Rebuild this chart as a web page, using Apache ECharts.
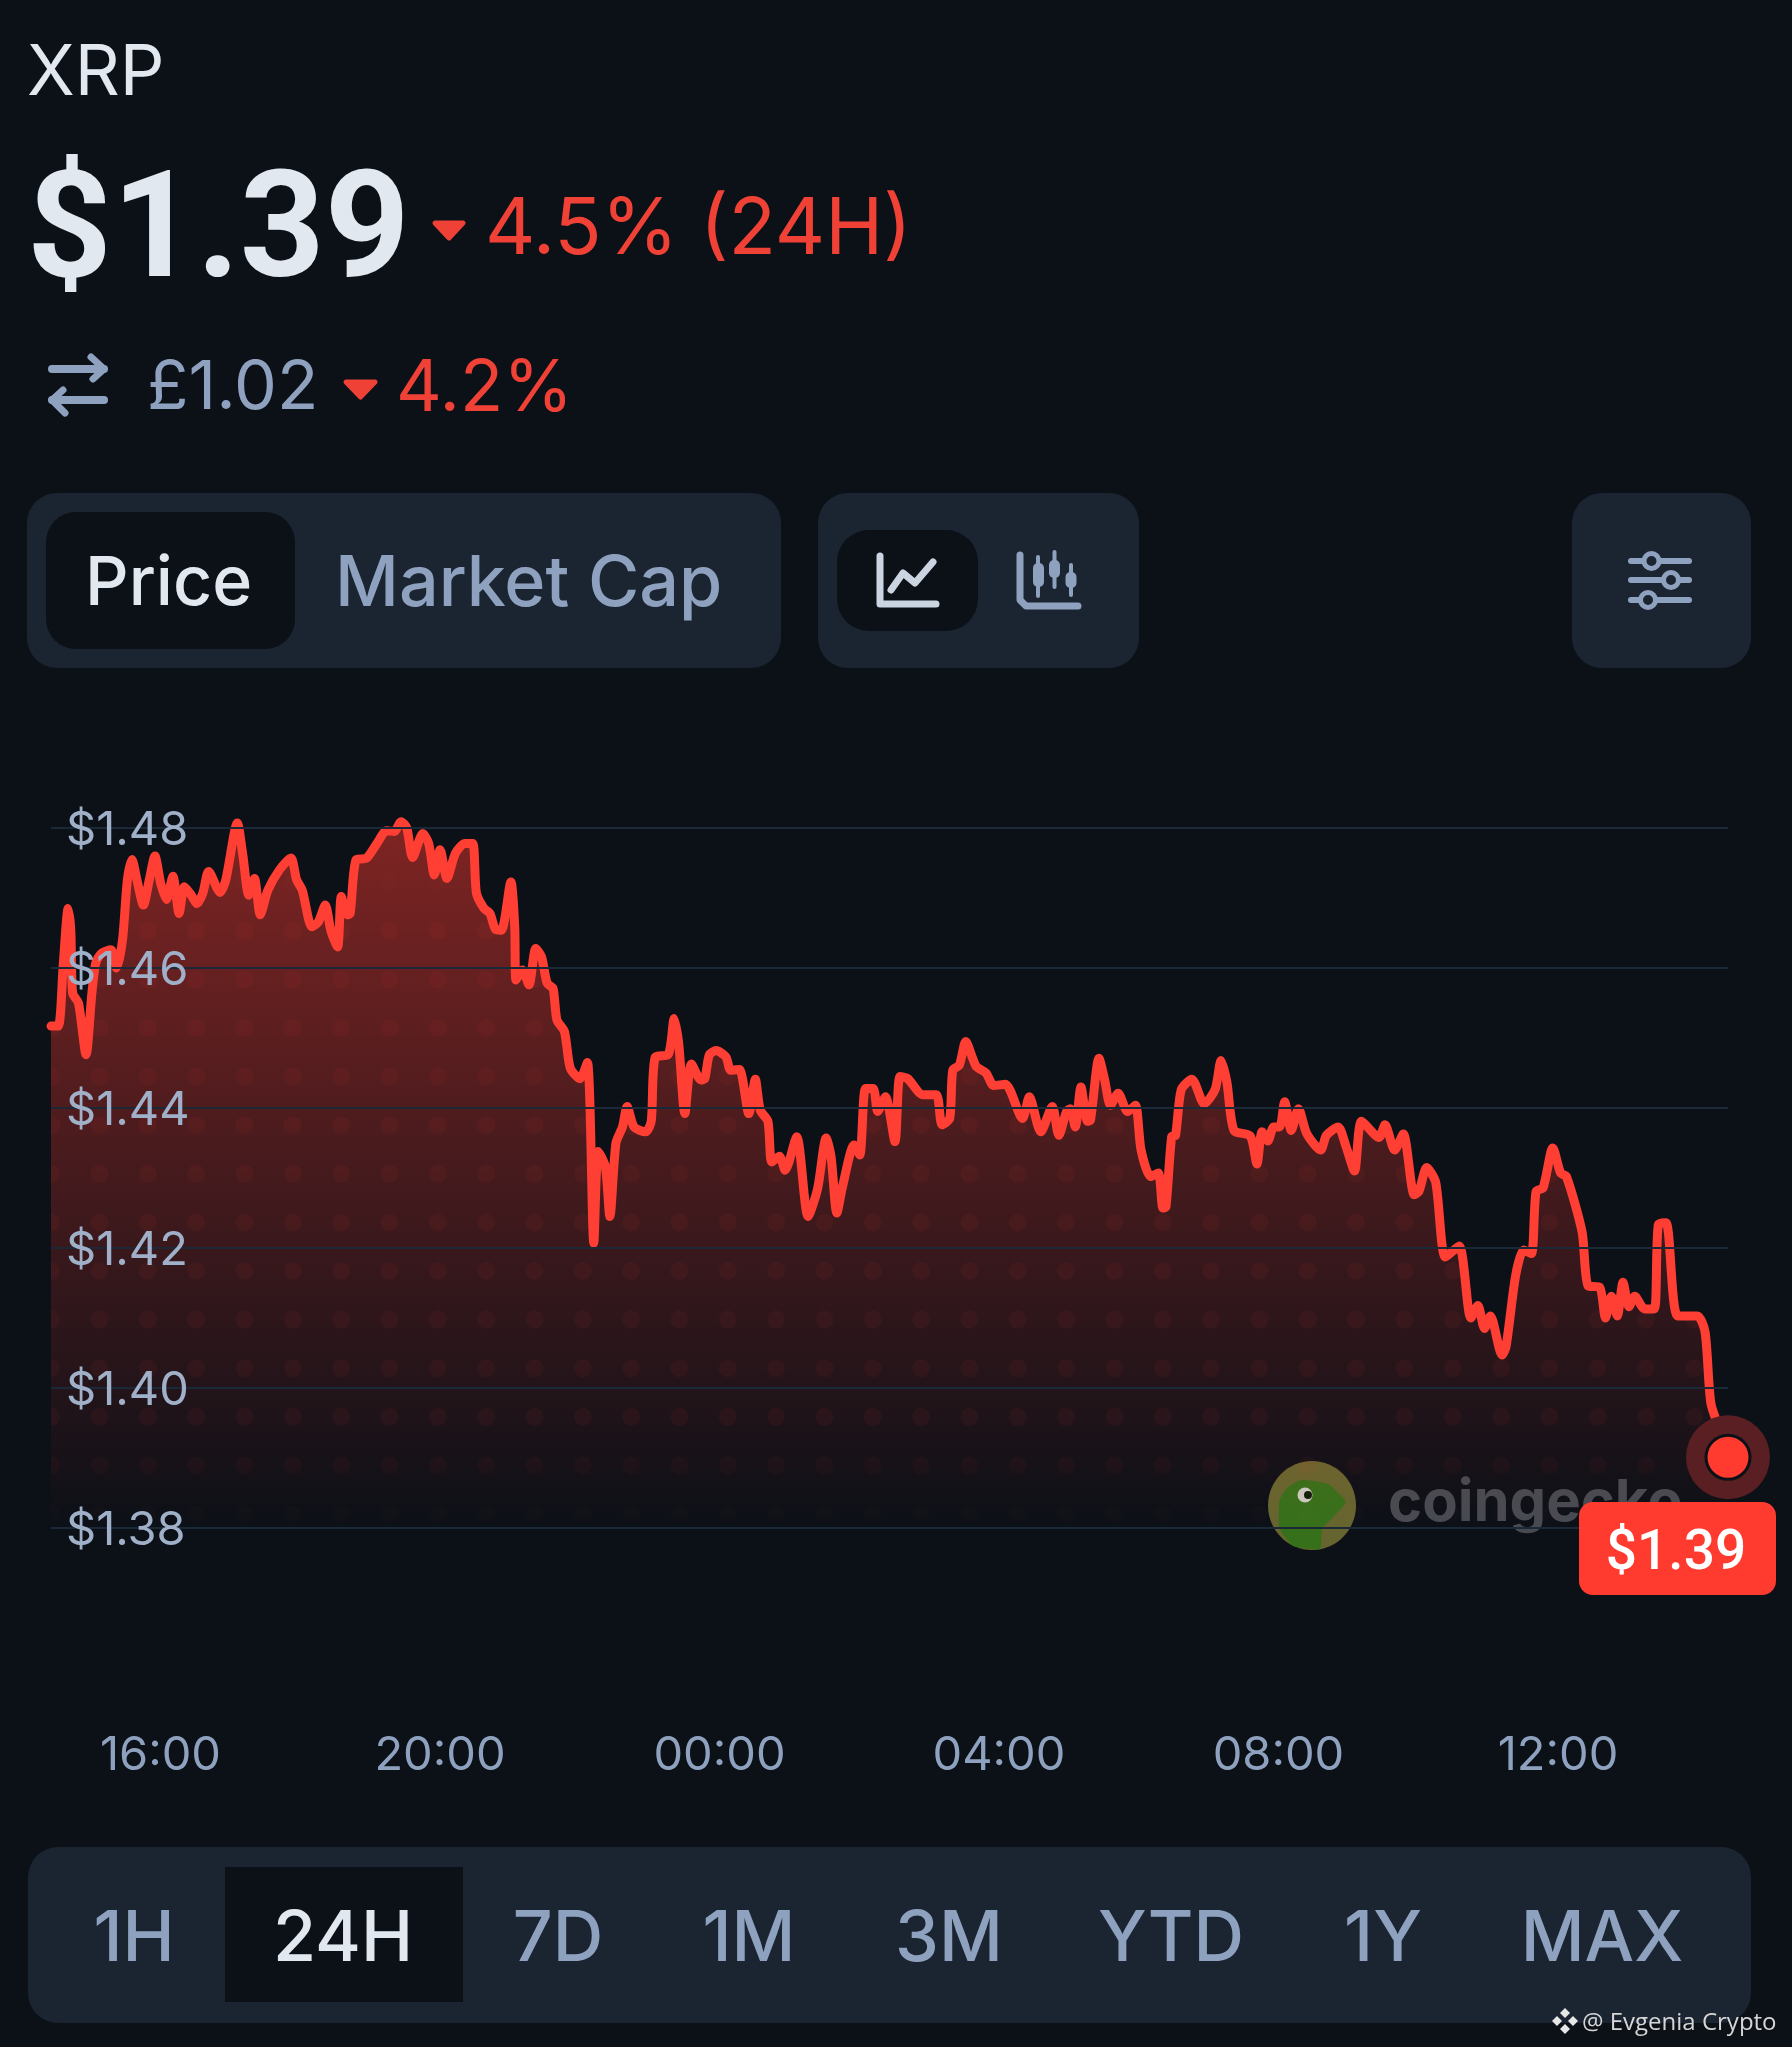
<!DOCTYPE html>
<html>
<head>
<meta charset="utf-8">
<style>html,body{margin:0;padding:0;background:#0c1017}#c{width:1792px;height:2047px}</style>
<script src="https://cdn.jsdelivr.net/npm/echarts@6/dist/echarts.min.js"></script>
</head>
<body>
<div id="c"></div>
<script>
// minutes since the start of the 24H window (14:26)
const minutes = [0,6.2,10.4,14.7,17,18.6,23.6,30.1,35.1,38.4,43.3,51.5,56.4,61.4,65.6,69.6,73.8,79.4,84.4,89.3,94.2,99.2,104.7,110,114.6,120.5,125.4,130.4,135.3,145.2,150.1,160,164.9,169.8,174.7,179.7,186.2,196.1,206,210.9,215.8,224,229.6,235.5,240.5,246.1,249.3,254.3,256.9,261.8,271,279.9,288.1,294.7,300.6,305.5,310.5,319.3,324.3,329.2,334.1,340,347.3,355.5,362.1,365.3,371.9,376.9,381.8,386.7,394.9,398.2,399.2,404.8,410.4,416.3,421.2,426.1,431.1,434.4,440.9,445.9,454.1,460.6,466.1,470,476,479.9,485.1,490.7,494.7,500.6,510.5,515.4,518.7,530.2,535.1,539,544.3,549.9,558.1,561.4,565.3,571.2,579.5,583.7,591,599.2,604.8,609,615.6,618.9,625.5,630.4,640.3,650.1,658.3,665.6,669.8,674.8,679.7,689.6,694.5,699.4,706,709.9,716.5,724.7,729,735.6,748.7,760.2,765.1,771.7,774.3,779.9,785.5,791.4,794.7,802.9,809.5,819.4,834.2,840.1,849.9,859.8,865.4,872,875.2,879.5,884.4,890,892.6,899.9,904.8,909.7,916.3,924.5,931.1,936,944.2,950.8,954.8,957.4,962.3,965.6,970.5,979.6,990.3,999.7,1004.7,1009.7,1015.8,1029.8,1035.5,1039.9,1044.9,1049.9,1055,1059.3,1065,1071.1,1078.4,1090.2,1095.2,1105.2,1112,1119.3,1125.4,1140.4,1145.5,1153.8,1161.2,1170.6,1174.6,1181.3,1189,1197.4,1209.1,1219.2,1225.2,1230.9,1236,1246,1249.4,1257.7,1264.5,1271.2,1275.2,1281.2,1289.6,1296.3,1301.3,1314.7,1319.8,1329.8,1334.8,1339.9,1344.9,1349.9,1354.9,1360,1368.4,1376.7,1380.1,1386.8,1396.8,1413.6,1420.3,1425.3,1433.7,1440];
const prices = [1.4517,1.4517,1.4602,1.4685,1.4654,1.4564,1.455,1.4476,1.4564,1.4607,1.4621,1.4626,1.46,1.464,1.4726,1.4755,1.4726,1.469,1.4726,1.476,1.4721,1.4698,1.4731,1.4678,1.4716,1.4704,1.4692,1.4707,1.4738,1.4708,1.4726,1.4807,1.4759,1.4704,1.4728,1.4676,1.4711,1.474,1.4757,1.4726,1.4711,1.4659,1.4666,1.469,1.4652,1.463,1.4702,1.4676,1.4678,1.4754,1.4757,1.4778,1.4796,1.4795,1.4809,1.48,1.4758,1.4792,1.4778,1.4733,1.4769,1.4728,1.4764,1.4778,1.4778,1.4707,1.4685,1.4678,1.4655,1.4654,1.4723,1.4659,1.4583,1.4597,1.4576,1.4628,1.4616,1.4578,1.4571,1.4526,1.4509,1.4457,1.4442,1.4465,1.4207,1.4338,1.4316,1.4245,1.435,1.4373,1.4402,1.4373,1.4366,1.4381,1.4472,1.4477,1.4528,1.4492,1.4392,1.4463,1.444,1.4442,1.4476,1.4482,1.4473,1.4454,1.4455,1.4392,1.4441,1.4397,1.4381,1.4323,1.4331,1.4311,1.4359,1.4245,1.4285,1.4357,1.4331,1.425,1.4288,1.4347,1.4333,1.4428,1.4428,1.4395,1.4416,1.4352,1.4445,1.4442,1.4419,1.4419,1.4376,1.4385,1.4454,1.4461,1.4495,1.4471,1.4459,1.445,1.4432,1.4434,1.4385,1.4416,1.4366,1.4402,1.4361,1.4395,1.4399,1.4373,1.443,1.4381,1.4383,1.4471,1.444,1.4404,1.4421,1.4395,1.4404,1.434,1.4302,1.4307,1.4257,1.4259,1.4359,1.4361,1.4426,1.4441,1.4406,1.4427,1.4468,1.4437,1.4368,1.436,1.432,1.4366,1.4353,1.4373,1.4373,1.4409,1.4368,1.4399,1.4363,1.434,1.4361,1.4373,1.4345,1.431,1.4381,1.4358,1.4376,1.434,1.4363,1.4276,1.4281,1.4315,1.4294,1.4187,1.4203,1.41,1.4118,1.4085,1.4103,1.4047,1.4059,1.4161,1.4197,1.4192,1.4281,1.4286,1.4343,1.4307,1.4302,1.4223,1.4146,1.4144,1.41,1.4131,1.4103,1.4151,1.4116,1.4131,1.4113,1.4113,1.4233,1.4236,1.4103,1.4103,1.408,1.3978,1.3937,1.3901];
const timeTickMinutes = [94,334,574,814,1054,1294];
const timeTickLabels = ['16:00','20:00','00:00','04:00','08:00','12:00'];
const rangeLabels = ['1H','24H','7D','1M','3M','YTD','1Y','MAX'];

const FONT = 'Inter, Roboto, sans-serif';
const ROBOTO = 'Roboto, sans-serif';
const BG = '#0c1017', PANEL = '#1b2431', MUTED = '#8ea2bf', LIGHT = '#e2e8f0', RED = '#ef4136', LINE = '#ff3f33';

const pts = minutes.map((m, i) => [m, prices[i]]);

// dotted texture that sits inside the filled area
const tile = document.createElement('canvas');
tile.width = 1792; tile.height = 2047;
const tc = tile.getContext('2d');
for (let j = 0; j < 15; j++) {
  const y = 833.6 + 48.6 * j;
  const a = y < 920 ? 0.012 : y > 1500 ? 0.012 : y > 1440 ? 0.04 : 0.055;
  tc.fillStyle = 'rgba(255,59,48,' + a + ')';
  for (let k = -1; k < 36; k++) {
    const x = 99.5 + 48.33 * k;
    if (x < 51 || x > 1728) continue;
    tc.beginPath(); tc.arc(x, y, 9, 0, Math.PI * 2); tc.fill();
  }
}

function txt(text, x, y, size, weight, fill, align, z, family) {
  return { type: 'text', z: z || 20, style: { text, x, y, font: weight + ' ' + size + 'px ' + (family || FONT), fill, align: align || 'left', verticalAlign: 'middle' } };
}
function rect(x, y, w, h, r, fill, z) {
  return { type: 'rect', z: z || 10, shape: { x, y, width: w, height: h, r }, style: { fill } };
}
function poly(points, stroke, width, z) {
  return { type: 'polyline', z: z || 20, shape: { points }, style: { stroke, lineWidth: width, fill: null, lineCap: 'round', lineJoin: 'round' } };
}
function tri(x0, x1, y0, y1, fill) {
  return { type: 'polygon', z: 20, shape: { points: [[x0 + 3, y0 + 3], [x1 - 3, y0 + 3], [(x0 + x1) / 2, y1 - 2]] }, style: { fill, stroke: fill, lineWidth: 5, lineJoin: 'round' } };
}

const elements = [
  txt('XRP', 27, 74, 70, 400, LIGHT),
  txt('$1.39', 27, 239, 148, 700, LIGHT, 'left', 20, ROBOTO),
  tri(432, 466, 220, 240, RED),
  txt('4.5% (24H)', 485, 231, 78, 400, RED),
  poly([[52, 369], [104, 369]], MUTED, 8),
  poly([[91, 357], [104, 369], [93, 379]], MUTED, 7),
  poly([[104, 400], [52, 400]], MUTED, 8),
  poly([[65, 413], [52, 400], [63, 390]], MUTED, 7),
  txt('£1.02', 147, 389, 68, 400, MUTED),
  tri(343, 378, 379, 399, RED),
  txt('4.2%', 396, 390, 71, 400, RED),

  rect(27, 493, 754, 175, 30, PANEL),
  rect(46, 512, 249, 137, 30, BG, 11),
  txt('Price', 85, 585, 68, 500, LIGHT),
  txt('Market Cap', 335, 585, 70, 500, MUTED),

  rect(818, 493, 321, 175, 30, PANEL),
  rect(837, 530, 141, 101, 32, BG, 11),
  poly([[880, 556], [880, 604], [936, 604]], '#cbd5e1', 7),
  poly([[891, 590], [903, 573], [915, 583], [933, 562]], '#cbd5e1', 7),

  poly([[1020, 555], [1020, 600], [1026, 606], [1078, 606]], MUTED, 7),
  poly([[1038, 557], [1038, 596]], MUTED, 4),
  rect(1033, 563, 11, 24, 5, MUTED, 20),
  poly([[1054.5, 552], [1054.5, 587]], MUTED, 4),
  rect(1049, 560, 11, 18, 5, MUTED, 20),
  poly([[1071, 565], [1071, 595]], MUTED, 4),
  rect(1065.5, 572, 11, 16, 5, MUTED, 20),

  rect(1572, 493, 179, 175, 30, PANEL),
  poly([[1631, 561], [1689, 561]], MUTED, 6),
  poly([[1631, 580], [1689, 580]], MUTED, 6),
  poly([[1631, 600], [1689, 600]], MUTED, 6),
  { type: 'circle', z: 21, shape: { cx: 1651.5, cy: 561, r: 7.5 }, style: { fill: PANEL, stroke: MUTED, lineWidth: 5 } },
  { type: 'circle', z: 21, shape: { cx: 1671, cy: 580, r: 7.5 }, style: { fill: PANEL, stroke: MUTED, lineWidth: 5 } },
  { type: 'circle', z: 21, shape: { cx: 1648, cy: 600, r: 7.5 }, style: { fill: PANEL, stroke: MUTED, lineWidth: 5 } },

  // CoinGecko watermark
  { type: 'ellipse', z: 1, shape: { cx: 1312, cy: 1505.5, rx: 44, ry: 44.6 }, style: { fill: '#66652f' } },
  { type: 'polygon', z: 1, shape: { points: [[1279.5, 1500], [1288, 1487], [1301, 1480], [1328, 1484], [1346, 1502], [1336, 1514], [1322.5, 1528.6], [1320, 1549], [1293, 1546], [1279.5, 1528.6]], smooth: 0.15 }, style: { fill: '#37701a' } },
  { type: 'circle', z: 1, shape: { cx: 1305, cy: 1495, r: 7.5 }, style: { fill: '#c9cbc0' } },
  { type: 'circle', z: 1, shape: { cx: 1308, cy: 1495, r: 4 }, style: { fill: '#10200c' } },
  txt('coingecko', 1388, 1504, 58, 700, '#474a52', 'left', 1),

  // end-of-line price tag
  rect(1579, 1502, 197, 93, 14, '#ff3b30', 40),
  txt('$' + prices[prices.length - 1].toFixed(2), 1676, 1555, 55, 500, '#ffffff', 'center', 41, ROBOTO),

  // range selector
  rect(28, 1847, 1723, 176, 30, PANEL),
  rect(225, 1867, 238, 135, 0, BG, 11)
];
const rangeCentres = [134, 343, 558, 749, 949, 1171, 1383, 1602];
rangeLabels.forEach((label, i) => {
  elements.push(txt(label, rangeCentres[i], 1940, 70, 500, label === '24H' ? LIGHT : MUTED, 'center'));
});
// credit line
elements.push({ type: 'polygon', z: 45, shape: { points: [[1565, 2008], [1570, 2013], [1565, 2018], [1560, 2013]] }, style: { fill: '#e6e6e6' } });
elements.push({ type: 'polygon', z: 45, shape: { points: [[1565, 2024], [1570, 2029], [1565, 2034], [1560, 2029]] }, style: { fill: '#e6e6e6' } });
elements.push({ type: 'polygon', z: 45, shape: { points: [[1557, 2016], [1562, 2021], [1557, 2026], [1552, 2021]] }, style: { fill: '#e6e6e6' } });
elements.push({ type: 'polygon', z: 45, shape: { points: [[1573, 2016], [1578, 2021], [1573, 2026], [1568, 2021]] }, style: { fill: '#e6e6e6' } });
elements.push(txt('@ Evgenia Crypto', 1582, 2023, 24, 400, '#d6d6d6', 'left', 45, '"Open Sans", sans-serif'));

const chart = echarts.init(document.getElementById('c'), null, { width: 1792, height: 2047 });
chart.setOption({
  animation: false,
  backgroundColor: BG,
  grid: { left: 51, right: 64, top: 828, height: 700, containLabel: false },
  xAxis: {
    type: 'value', min: 0, max: 1440,
    axisLine: { show: false }, axisTick: { show: false }, splitLine: { show: false },
    axisLabel: {
      customValues: timeTickMinutes,
      formatter: v => timeTickLabels[timeTickMinutes.indexOf(v)] || '',
      margin: 204, color: MUTED, fontSize: 47, fontFamily: FONT
    }
  },
  yAxis: {
    type: 'value', min: 1.38, max: 1.48, interval: 0.02, z: 6,
    axisLine: { show: false }, axisTick: { show: false },
    splitLine: { lineStyle: { color: '#1b2838', width: 2 } },
    axisLabel: { inside: true, margin: 15, color: '#9fb0c8', fontSize: 47, fontFamily: FONT, verticalAlign: 'top', lineHeight: 6, formatter: v => '$' + v.toFixed(2) }
  },
  series: [
    {
      type: 'line', data: pts, clip: false, silent: true, symbol: 'none', z: 2, smooth: 0.25,
      lineStyle: { width: 0, opacity: 0 },
      areaStyle: { opacity: 1, color: { type: 'linear', x: 0, y: 0, x2: 0, y2: 1, colorStops: [{ offset: 0, color: 'rgba(255,59,48,0.47)' }, { offset: 1, color: 'rgba(255,59,48,0)' }] } }
    },
    {
      type: 'line', data: pts, clip: false, silent: true, symbol: 'none', z: 3, smooth: 0.25,
      lineStyle: { color: LINE, width: 9, cap: 'round', join: 'round' },
      areaStyle: { opacity: 1, color: { image: tile, repeat: 'no-repeat' } }
    },
    {
      type: 'scatter', data: [pts[pts.length - 1]], clip: false, silent: true, z: 4, symbolSize: 84,
      itemStyle: { color: '#5a1f22', opacity: 1 }
    },
    {
      type: 'scatter', data: [pts[pts.length - 1]], clip: false, silent: true, z: 5, symbolSize: 44,
      itemStyle: { color: '#ff3b30', borderColor: BG, borderWidth: 3, opacity: 1 }
    }
  ],
  graphic: { elements }
});
</script>
</body>
</html>
